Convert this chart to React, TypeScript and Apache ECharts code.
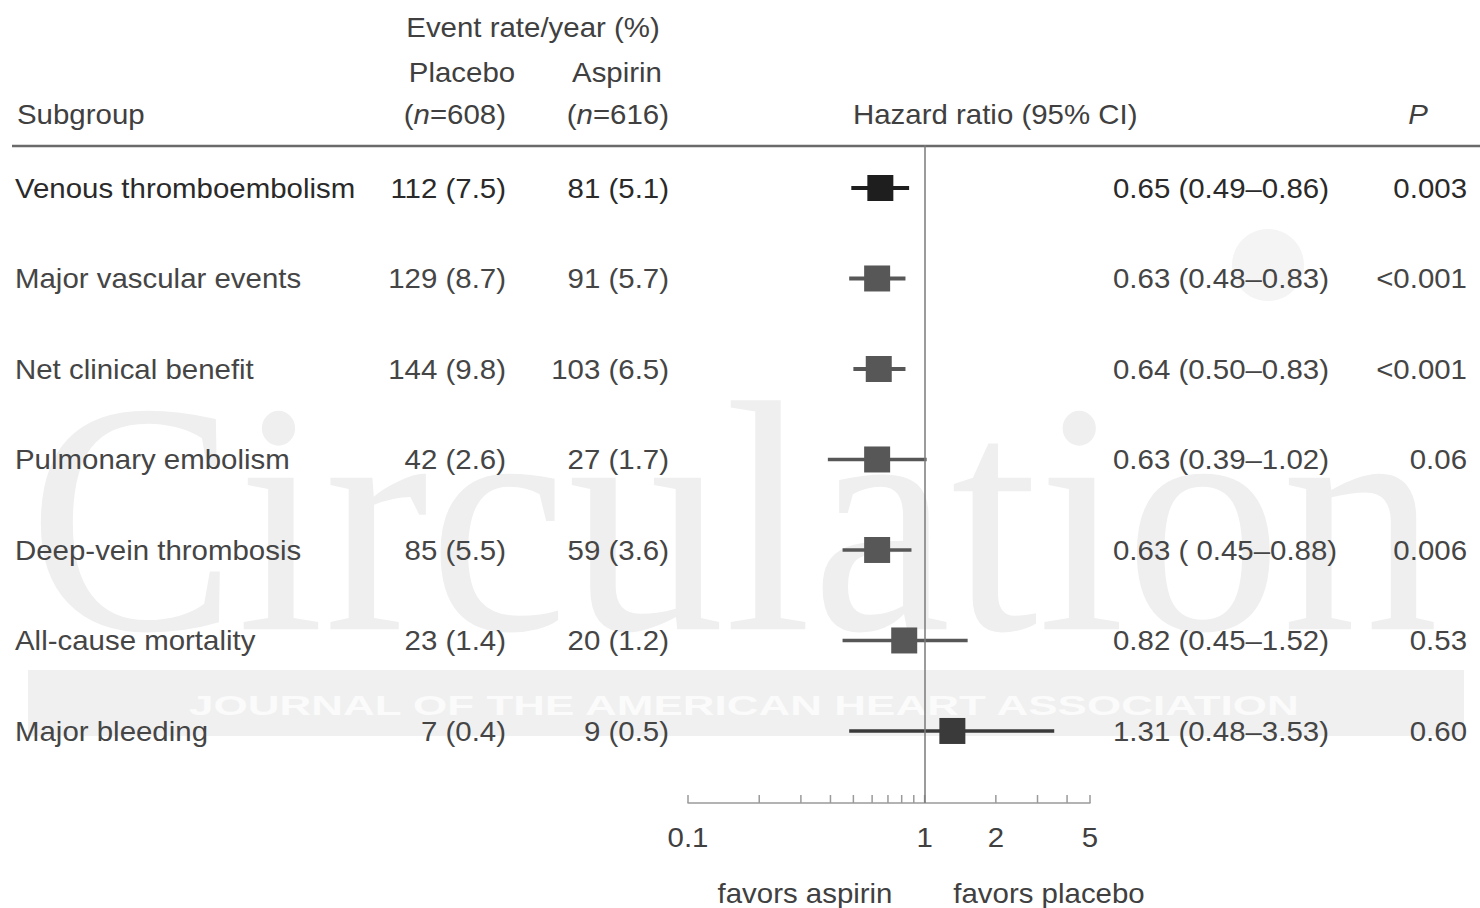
import React, { useEffect, useRef } from "react";
import * as echarts from "echarts";

// ---------- data ----------
const subgroups = [
  "Venous thromboembolism",
  "Major vascular events",
  "Net clinical benefit",
  "Pulmonary embolism",
  "Deep-vein thrombosis",
  "All-cause mortality",
  "Major bleeding",
];
const placeboEvents = ["112 (7.5)", "129 (8.7)", "144 (9.8)", "42 (2.6)", "85 (5.5)", "23 (1.4)", "7 (0.4)"];
const aspirinEvents = ["81 (5.1)", "91 (5.7)", "103 (6.5)", "27 (1.7)", "59 (3.6)", "20 (1.2)", "9 (0.5)"];
const hazardRatios = [0.65, 0.63, 0.64, 0.63, 0.63, 0.82, 1.31];
const ciLower = [0.49, 0.48, 0.5, 0.39, 0.45, 0.45, 0.48];
const ciUpper = [0.86, 0.83, 0.83, 1.02, 0.88, 1.52, 3.53];
const hrLabels = [
  "0.65 (0.49–0.86)",
  "0.63 (0.48–0.83)",
  "0.64 (0.50–0.83)",
  "0.63 (0.39–1.02)",
  "0.63 ( 0.45–0.88)",
  "0.82 (0.45–1.52)",
  "1.31 (0.48–3.53)",
];
const pValues = ["0.003", "<0.001", "<0.001", "0.06", "0.006", "0.53", "0.60"];
const tickValues = [0.1, 0.2, 0.3, 0.4, 0.5, 0.6, 0.7, 0.8, 0.9, 1, 2, 3, 4, 5];
const tickLabels = [0.1, 1, 2, 5];

// ---------- layout / style ----------
const FONT = "'Liberation Sans', Arial, Helvetica, sans-serif";
const FS = 27;
const SX = 1.09;
const Y_MIN = -0.475;
const Y_MAX = 6.796;
const COL_SUB = 15;
const COL_PLACEBO = 506;
const COL_ASPIRIN = 669;
const COL_HR = 1113;
const COL_P = 1467;

function txt(text: string, x: number, y: number, align: string, extra: any = {}) {
  return {
    type: "text",
    x,
    y,
    scaleX: SX,
    silent: true,
    style: {
      text,
      fill: "#404040",
      fontSize: FS,
      fontFamily: FONT,
      align,
      verticalAlign: "middle",
      textAlign: align,
      textVerticalAlign: "middle",
      ...extra,
    },
  };
}

export default function App() {
  const ref = useRef<HTMLDivElement>(null);

  useEffect(() => {
    if (!ref.current) return;
    const chart = echarts.init(ref.current, undefined, { renderer: "svg" });

    const italicRich = {
      i: { fontStyle: "italic", fontSize: FS, fontFamily: FONT, fill: "#404040" },
    };

    const option: any = {
      animation: false,
      backgroundColor: "#ffffff",
      grid: { left: 688, right: 390, top: 145, bottom: 105, containLabel: false },
      xAxis: {
        type: "log",
        logBase: 10,
        min: 0.1,
        max: 5,
        axisLine: { show: true, onZero: false, lineStyle: { color: "#9a9a9a", width: 1.5 } },
        axisTick: { show: false },
        axisLabel: { show: false },
        splitLine: { show: false },
      },
      yAxis: {
        type: "value",
        inverse: true,
        min: Y_MIN,
        max: Y_MAX,
        show: false,
        splitLine: { show: false },
      },
      graphic: [
        // watermark
        {
          type: "text",
          x: 28,
          y: 518,
          z: -10,
          silent: true,
          scaleX: 0.95,
          style: {
            text: "Circulation",
            fill: "#efefef",
            fontSize: 330,
            fontFamily: "'Liberation Serif', 'DejaVu Serif', serif",
            align: "left",
            verticalAlign: "middle",
            textAlign: "left",
            textVerticalAlign: "middle",
          },
        },
        {
          type: "rect",
          z: -9,
          silent: true,
          shape: { x: 28, y: 670, width: 1436, height: 66 },
          style: { fill: "#f0f0f0" },
        },
        {
          type: "text",
          x: 189,
          y: 706,
          z: -8,
          silent: true,
          scaleX: 1.63,
          style: {
            text: "JOURNAL OF THE AMERICAN HEART ASSOCIATION",
            fill: "#fbfbfb",
            fontSize: 27,
            fontWeight: "bold",
            fontFamily: FONT,
            align: "left",
            verticalAlign: "middle",
            textAlign: "left",
            textVerticalAlign: "middle",
          },
        },
        {
          type: "circle",
          z: -9,
          silent: true,
          shape: { cx: 1268, cy: 265, r: 36 },
          style: { fill: "#f4f4f4" },
        },
        // header
        txt("Event rate/year (%)", 533, 27, "center"),
        txt("Placebo", 462, 72, "center"),
        txt("Aspirin", 617, 72, "center"),
        txt("Subgroup", 17, 114, "left"),
        txt("({i|n}=608)", 506, 114, "right", { rich: italicRich }),
        txt("({i|n}=616)", 669, 114, "right", { rich: italicRich }),
        txt("Hazard ratio (95% CI)", 853, 114, "left"),
        txt("P", 1418, 114, "center", { fontStyle: "italic" }),
        {
          type: "line",
          silent: true,
          shape: { x1: 12, y1: 146, x2: 1480, y2: 146 },
          style: { stroke: "#6a6a6a", lineWidth: 2.5 },
        },
        // footer
        txt("favors aspirin", 805, 893, "center"),
        txt("favors placebo", 1049, 893, "center"),
      ],
      series: [
        {
          type: "custom",
          name: "Hazard ratio",
          clip: false,
          silent: true,
          data: hazardRatios.map((hr, i) => [hr, i, ciLower[i], ciUpper[i]]),
          encode: { x: [0, 2, 3], y: 1 },
          renderItem: (params: any, api: any) => {
            const i = api.value(1);
            const c = api.coord([api.value(0), i]);
            const lo = api.coord([api.value(2), i]);
            const hi = api.coord([api.value(3), i]);
            const first = params.dataIndex === 0;
            const last = params.dataIndex === hazardRatios.length - 1;
            const color = first ? "#1e1e1e" : last ? "#3a3a3a" : "#575757";
            const lw = params.dataIndex < 3 ? 4 : 3.5;
            const s = 26;
            return {
              type: "group",
              children: [
                {
                  type: "line",
                  shape: { x1: lo[0], y1: c[1], x2: hi[0], y2: c[1] },
                  style: { stroke: color, lineWidth: lw },
                },
                {
                  type: "rect",
                  shape: { x: c[0] - s / 2, y: c[1] - s / 2, width: s, height: s },
                  style: { fill: color },
                },
              ],
            };
          },
          markLine: {
            silent: true,
            symbol: "none",
            label: { show: false },
            lineStyle: { color: "#7a7a7a", width: 1.5, type: "solid" },
            data: [{ xAxis: 1 }],
          },
          z: 3,
        },
        {
          type: "custom",
          name: "Table",
          clip: false,
          silent: true,
          data: subgroups.map((_, i) => [1, i]),
          encode: { x: 0, y: 1 },
          renderItem: (params: any, api: any) => {
            const k = params.dataIndex;
            const y = api.coord([1, api.value(1)])[1];
            const fill = k === 0 ? "#2a2a2a" : "#454545";
            return {
              type: "group",
              children: [
                txt(subgroups[k], COL_SUB, y, "left", { fill }),
                txt(placeboEvents[k], COL_PLACEBO, y, "right", { fill }),
                txt(aspirinEvents[k], COL_ASPIRIN, y, "right", { fill }),
                txt(hrLabels[k], COL_HR, y, "left", { fill }),
                txt(pValues[k], COL_P, y, "right", { fill }),
              ],
            };
          },
        },
        {
          type: "custom",
          name: "Ticks",
          clip: false,
          silent: true,
          data: tickValues.map((v) => [v, Y_MAX]),
          encode: { x: 0, y: 1 },
          renderItem: (params: any, api: any) => {
            const p = api.coord([api.value(0), api.value(1)]);
            return {
              type: "line",
              shape: { x1: p[0], y1: p[1], x2: p[0], y2: p[1] - 8 },
              style: { stroke: "#9a9a9a", lineWidth: 1.5 },
            };
          },
        },
        {
          type: "custom",
          name: "Tick labels",
          clip: false,
          silent: true,
          data: tickLabels.map((v) => [v, Y_MAX]),
          encode: { x: 0, y: 1 },
          renderItem: (params: any, api: any) => {
            const p = api.coord([api.value(0), api.value(1)]);
            return txt(String(tickLabels[params.dataIndex]), p[0], p[1] + 34, "center");
          },
        },
      ],
    };

    chart.setOption(option);
    return () => chart.dispose();
  }, []);

  return (
    <div
      ref={ref}
      style={{ position: "fixed", left: 0, top: 0, width: 1480, height: 908, background: "#fff" }}
    />
  );
}
